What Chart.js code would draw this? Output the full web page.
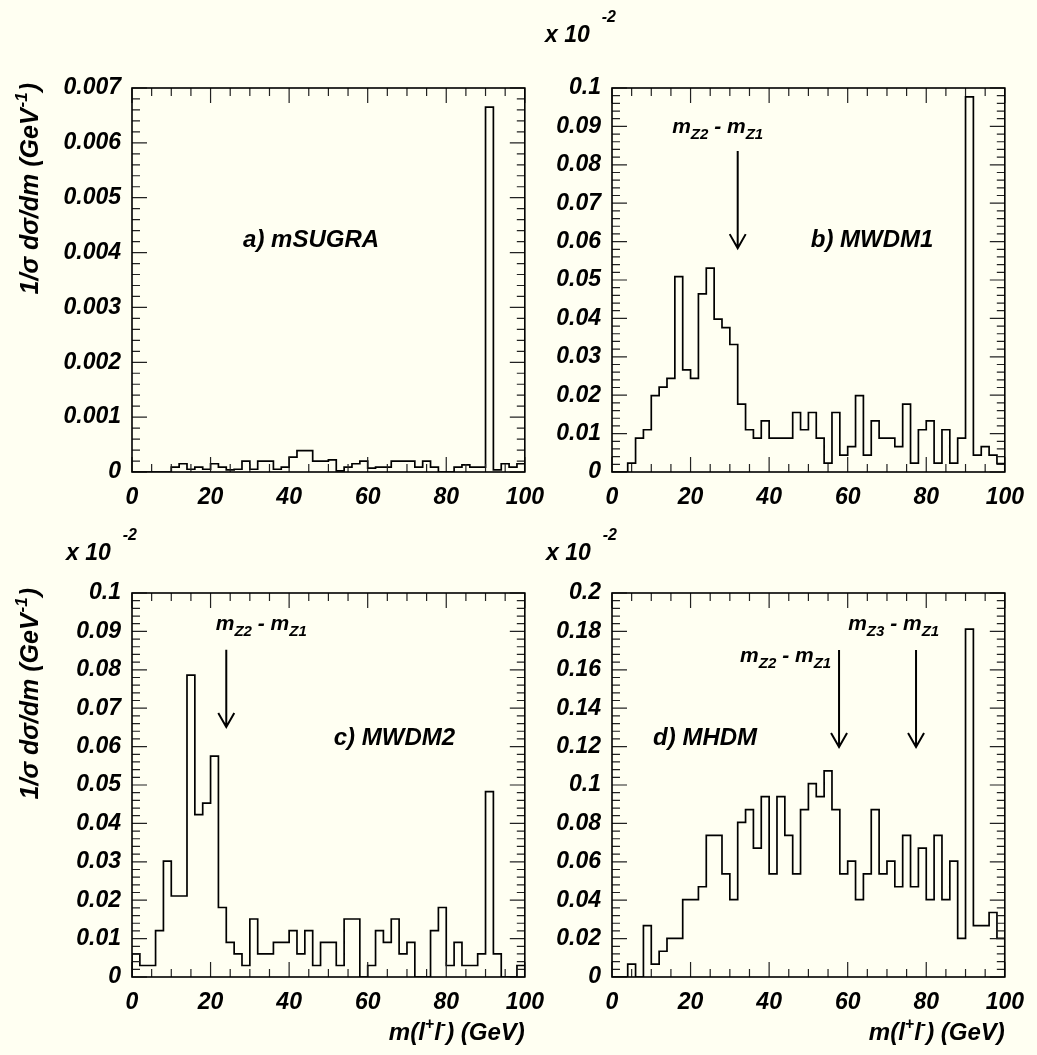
<!DOCTYPE html>
<html>
<head>
<meta charset="utf-8">
<script src="https://cdn.jsdelivr.net/npm/chart.js@4.4.0/dist/chart.umd.min.js"></script>
<style>
  html, body { margin: 0; padding: 0; background: #fffff2; }
  body { width: 1037px; height: 1055px; position: relative; overflow: hidden; }
  canvas { position: absolute; }
</style>
</head>
<body>
<canvas id="panelA" width="556" height="550" style="left:0;top:0"></canvas>
<canvas id="panelB" width="556" height="550" style="left:480px;top:0"></canvas>
<canvas id="panelC" width="556" height="550" style="left:0;top:505px"></canvas>
<canvas id="panelD" width="556" height="550" style="left:480px;top:505px"></canvas>
<script>
// dilepton invariant mass, 50 bins of 2 GeV from 0 to 100
const binWidth = 2;
const massTicks = [0, 20, 40, 60, 80, 100];

const sugraTicks = [0, 0.001, 0.002, 0.003, 0.004, 0.005, 0.006, 0.007];
const wdmTicks = [0, 0.01, 0.02, 0.03, 0.04, 0.05, 0.06, 0.07, 0.08, 0.09, 0.1];
const hdmTicks = [0, 0.02, 0.04, 0.06, 0.08, 0.1, 0.12, 0.14, 0.16, 0.18, 0.2];

const mSugra = [
  0, 0, 0, 0, 0, 0.00009, 0.00015, 0.00005, 0.00009, 0.00005,
  0.00015, 0.00009, 0.00004, 0.00005, 0.0002, 0.00005, 0.0002, 0.0002, 0.00005, 0.00009,
  0.00027, 0.00039, 0.00039, 0.0002, 0.0002, 0.00022, 0.00002, 0.00009, 0.00015, 0.0002,
  0.00007, 0.00009, 0.00009, 0.0002, 0.0002, 0.0002, 0.00009, 0.0002, 0.00009, 0,
  0, 0.00009, 0.00013, 0.00009, 0.00009, 0.00665, 0.00004, 0.00015, 0.00009, 0.00015
];
const mwdm1 = [
  0, 0, 0.0023, 0.0088, 0.011, 0.0199, 0.0221, 0.0244, 0.0509, 0.0266,
  0.0244, 0.0464, 0.0531, 0.0398, 0.0376, 0.0332, 0.0177, 0.011, 0.0088, 0.0133,
  0.0088, 0.0088, 0.0088, 0.0155, 0.011, 0.0155, 0.0088, 0.0023, 0.0155, 0.0044,
  0.0066, 0.0199, 0.0044, 0.0133, 0.0088, 0.0088, 0.0066, 0.0177, 0.0023, 0.011,
  0.0133, 0.0023, 0.011, 0.0023, 0.0088, 0.0977, 0.0044, 0.0066, 0.0044, 0.0022
];
const mwdm2 = [
  0.006, 0.003, 0.003, 0.0121, 0.0302, 0.0211, 0.0211, 0.0786, 0.0423, 0.0453,
  0.0575, 0.0181, 0.009, 0.006, 0.003, 0.0151, 0.006, 0.006, 0.009, 0.009,
  0.0121, 0.006, 0.0121, 0.003, 0.009, 0.009, 0.003, 0.0151, 0.0151, 0,
  0.003, 0.0121, 0.009, 0.0151, 0.006, 0.009, 0, 0, 0.0121, 0.0181,
  0.003, 0.009, 0.003, 0.003, 0.006, 0.0483, 0.006, 0, 0, 0.003
];
const mhdm = [
  0, 0, 0.0067, 0, 0.0268, 0.0067, 0.0134, 0.0201, 0.0201, 0.0403,
  0.0403, 0.047, 0.0738, 0.0738, 0.0537, 0.0403, 0.0805, 0.0872, 0.0671, 0.0939,
  0.0537, 0.0939, 0.0738, 0.0537, 0.0872, 0.1007, 0.0939, 0.1074, 0.0872, 0.0537,
  0.0604, 0.0403, 0.0537, 0.0872, 0.0537, 0.0604, 0.047, 0.0738, 0.047, 0.0671,
  0.0403, 0.0738, 0.0403, 0.0604, 0.0201, 0.1812, 0.0268, 0.0268, 0.0336, 0.0201
];

const FAMILY = '"Liberation Sans", Arial, Helvetica, sans-serif';
const font = size => `italic bold ${size}px ${FAMILY}`;

// outline of a histogram: bin contents become step points at the lower bin edges
function histPoints(vals) {
  const pts = [{ x: 0, y: 0 }];
  vals.forEach((v, i) => pts.push({ x: i * binWidth, y: v }));
  const end = vals.length * binWidth;
  pts.push({ x: end, y: vals[vals.length - 1] });
  pts.push({ x: end, y: 0 });
  return pts;
}

// text made of pieces, some of them raised or lowered (sub/superscripts)
function richText(ctx, parts, x, y, align) {
  let total = 0;
  parts.forEach(p => {
    ctx.font = font(p.size);
    p.w = ctx.measureText(p.t).width + (p.gap || 0);
    total += p.w;
  });
  let cx = align === 'right' ? x - total : align === 'center' ? x - total / 2 : x;
  parts.forEach(p => {
    ctx.font = font(p.size);
    ctx.fillText(p.t, cx + (p.gap || 0), y + (p.dy || 0));
    cx += p.w;
  });
}

const mass = (n, sub) => [{ t: 'm', size: 21 }, { t: 'Z' + n, size: 15, dy: 6 }];
const massDiff = n => [...mass(n), { t: ' - ', size: 21 }, ...mass(1)];

const yTitleParts = [
  { t: '1/\u03c3 d\u03c3/dm (GeV', size: 25 },
  { t: '-1', size: 17, dy: -11, gap: 1 },
  { t: ')', size: 25, gap: 1 }
];
const xTitleParts = [
  { t: 'm(l', size: 24 },
  { t: '+', size: 16, dy: -11 },
  { t: 'l', size: 24 },
  { t: '-', size: 16, dy: -11 },
  { t: ') (GeV)', size: 24 }
];
const expParts = [{ t: 'x 10', size: 23 }, { t: '-2', size: 16, gap: 12, dy: -20 }];

// frame with ROOT-style ticks on all four sides, pointing inwards
const rootFrame = {
  id: 'rootFrame',
  afterDatasetsDraw(chart, args, o) {
    const { ctx, chartArea: a, scales: { x, y } } = chart;
    ctx.save();
    ctx.strokeStyle = '#222';
    ctx.lineWidth = 1.2;
    ctx.beginPath();
    const nx = Math.round((x.max - x.min) / o.xMinor);
    for (let i = 0; i <= nx; i++) {
      const px = x.getPixelForValue(x.min + i * o.xMinor);
      const len = i % o.xPer === 0 ? 15 : 8;
      ctx.moveTo(px, a.bottom); ctx.lineTo(px, a.bottom - len);
      ctx.moveTo(px, a.top); ctx.lineTo(px, a.top + len);
    }
    const ny = Math.round((y.max - y.min) / o.yMinor);
    for (let i = 0; i <= ny; i++) {
      const py = y.getPixelForValue(y.min + i * o.yMinor);
      const len = i % o.yPer === 0 ? 15 : 8;
      ctx.moveTo(a.left, py); ctx.lineTo(a.left + len, py);
      ctx.moveTo(a.right, py); ctx.lineTo(a.right - len, py);
    }
    ctx.stroke();
    ctx.strokeStyle = '#000';
    ctx.lineWidth = 1.6;
    ctx.strokeRect(a.left, a.top, a.right - a.left, a.bottom - a.top);
    ctx.restore();
  }
};

// panel name, arrows at the neutralino mass differences, axis titles
const panelNotes = {
  id: 'panelNotes',
  afterDraw(chart, args, o) {
    const { ctx, chartArea: a, scales: { x, y } } = chart;
    ctx.save();
    ctx.fillStyle = '#000';
    ctx.strokeStyle = '#000';
    ctx.textBaseline = 'alphabetic';

    ctx.font = font(24);
    ctx.textAlign = 'center';
    ctx.textBaseline = 'middle';
    ctx.fillText(o.name.text, x.getPixelForValue(o.name.x), y.getPixelForValue(o.name.y));
    ctx.textAlign = 'left';
    ctx.textBaseline = 'alphabetic';

    (o.arrows || []).forEach(ar => {
      const px = x.getPixelForValue(ar.x);
      const y0 = y.getPixelForValue(ar.from);
      const y1 = y.getPixelForValue(ar.to);
      ctx.lineWidth = 2;
      ctx.beginPath();
      ctx.moveTo(px, y0); ctx.lineTo(px, y1);
      ctx.moveTo(px - 8, y1 - 14); ctx.lineTo(px, y1); ctx.lineTo(px + 8, y1 - 14);
      ctx.stroke();
      richText(ctx, massDiff(ar.n), x.getPixelForValue(ar.textX), y.getPixelForValue(ar.textY), 'center');
    });

    if (o.exponent) {
      richText(ctx, expParts, a.left + o.exponent.dx, a.top + o.exponent.dy, 'left');
    }
    if (o.yTitle) {
      ctx.translate(38, 83);
      ctx.rotate(-Math.PI / 2);
      richText(ctx, yTitleParts, 0, 0, 'right');
      ctx.setTransform(1, 0, 0, 1, 0, 0);
    }
    if (o.xTitle) {
      richText(ctx, xTitleParts, a.right, a.bottom + 63, 'right');
    }
    ctx.restore();
  }
};

const tickFont = { family: FAMILY, size: 23, style: 'italic', weight: 'bold' };

function drawPanel(id, values, yTicks, minor, notes) {
  const yMax = yTicks[yTicks.length - 1];
  const yStep = yTicks[1] - yTicks[0];
  return new Chart(document.getElementById(id), {
    type: 'line',
    data: {
      datasets: [{
        data: histPoints(values),
        stepped: true,
        borderColor: '#000',
        borderWidth: 1.7,
        pointRadius: 0,
        fill: false
      }]
    },
    options: {
      responsive: false,
      animation: false,
      devicePixelRatio: 1,
      layout: { padding: { left: 0, top: 88, right: 26, bottom: 0 } },
      plugins: {
        legend: { display: false },
        tooltip: { enabled: false },
        rootFrame: { xMinor: 5, xPer: 4, yMinor: minor, yPer: Math.round(yStep / minor) },
        panelNotes: notes
      },
      scales: {
        x: {
          type: 'linear',
          min: 0,
          max: 100,
          grid: { display: false, drawTicks: false },
          border: { display: false },
          afterBuildTicks: s => { s.ticks = massTicks.map(v => ({ value: v })); },
          afterFit: s => { s.height = 78; },
          ticks: { autoSkip: false, maxRotation: 0, padding: 12, font: tickFont, color: '#000' }
        },
        y: {
          min: 0,
          max: yMax,
          grid: { display: false, drawTicks: false },
          border: { display: false },
          afterBuildTicks: s => { s.ticks = yTicks.map(v => ({ value: v })); },
          afterFit: s => { s.width = 132; },
          ticks: {
            padding: 11,
            font: tickFont,
            color: '#000',
            callback: v => String(+v.toFixed(4))
          }
        }
      }
    },
    plugins: [rootFrame, panelNotes]
  });
}

drawPanel('panelA', mSugra, sugraTicks, 0.0002, {
  name: { text: 'a) mSUGRA', x: 45.6, y: 0.00423 },
  yTitle: true
});
drawPanel('panelB', mwdm1, wdmTicks, 0.002, {
  name: { text: 'b) MWDM1', x: 66.2, y: 0.0604 },
  arrows: [{ n: 2, x: 32, from: 0.0836, to: 0.0583, textX: 26.9, textY: 0.0883 }],
  exponent: { dx: -67, dy: -46 }
});
drawPanel('panelC', mwdm2, wdmTicks, 0.002, {
  name: { text: 'c) MWDM2', x: 66.8, y: 0.0622 },
  arrows: [{ n: 2, x: 24, from: 0.0852, to: 0.0651, textX: 32.9, textY: 0.0904 }],
  exponent: { dx: -66, dy: -33 },
  yTitle: true,
  xTitle: true
});
drawPanel('panelD', mhdm, hdmTicks, 0.004, {
  name: { text: 'd) MHDM', x: 23.7, y: 0.1245 },
  arrows: [
    { n: 2, x: 57.8, from: 0.1703, to: 0.1198, textX: 44.2, textY: 0.164 },
    { n: 3, x: 77.4, from: 0.1703, to: 0.1198, textX: 71.7, textY: 0.1807 }
  ],
  exponent: { dx: -66, dy: -33 },
  xTitle: true
});
</script>
</body>
</html>
